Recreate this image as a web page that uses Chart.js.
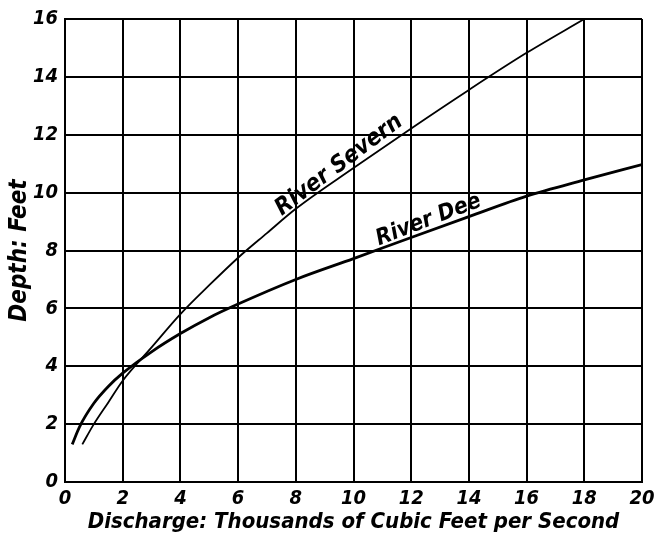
<!DOCTYPE html>
<html>
<head>
<meta charset="utf-8">
<script src="https://cdn.jsdelivr.net/npm/chart.js@4.4.1/dist/chart.umd.min.js"></script>
<style>
  html, body { margin: 0; padding: 0; background: #fff; }
  #wrap { width: 656px; height: 535px; position: relative; }
</style>
</head>
<body>
<div id="wrap"><canvas id="c" width="656" height="535"></canvas></div>
<script>
// Discharge (thousands of cubic feet per second) against depth (feet)
const severnDischarge = [0.6, 1.0, 1.5, 2.0, 3.0, 4.0, 5.0, 6.0, 7.0, 8.0, 10.0, 12.0, 14.0, 16.0, 18.0];
const severnDepth     = [1.3, 2.0, 2.75, 3.5, 4.65, 5.8, 6.8, 7.75, 8.6, 9.44, 10.85, 12.22, 13.55, 14.83, 16.0];

const deeDischarge = [0.25, 0.5, 1.0, 1.5, 2.0, 3.0, 4.0, 5.0, 6.0, 8.0, 10.0, 12.0, 14.0, 16.0, 18.0, 20.0];
const deeDepth     = [1.3, 1.9, 2.72, 3.3, 3.76, 4.5, 5.13, 5.68, 6.15, 7.0, 7.72, 8.45, 9.17, 9.88, 10.44, 10.97];

const xTickValues = [0, 2, 4, 6, 8, 10, 12, 14, 16, 18, 20];
const yTickValues = [0, 2, 4, 6, 8, 10, 12, 14, 16];

// Curve names written along each line: [text, discharge, depth, angle in degrees, font size]
const curveLabels = [
  ['River Severn', 9.5, 10.95, -37, 23.5],
  ['River Dee', 12.6, 9.05, -21, 22.5]
];

const LETTER_FONT = '"DejaVu Sans Condensed", "DejaVu Sans", sans-serif';

const toPoints = (xs, ys) => xs.map((x, i) => ({ x: x, y: ys[i] }));

const curveLabelPlugin = {
  id: 'curveLabels',
  afterDatasetsDraw(chart) {
    const { ctx, scales } = chart;
    ctx.save();
    ctx.fillStyle = '#000';
    ctx.textAlign = 'center';
    ctx.textBaseline = 'middle';
    curveLabels.forEach(([text, x, y, ang, size]) => {
      const px = scales.x.getPixelForValue(x);
      const py = scales.y.getPixelForValue(y);
      ctx.save();
      ctx.font = 'italic bold ' + size + 'px ' + LETTER_FONT;
      ctx.translate(px, py);
      ctx.rotate(ang * Math.PI / 180);
      ctx.fillText(text, 0, 0);
      ctx.restore();
    });
    ctx.restore();
  }
};

new Chart(document.getElementById('c'), {
  type: 'line',
  data: {
    datasets: [
      {
        label: 'River Severn',
        data: toPoints(severnDischarge, severnDepth),
        borderColor: '#000',
        borderWidth: 1.8,
        pointRadius: 0,
        cubicInterpolationMode: 'monotone',
        fill: false
      },
      {
        label: 'River Dee',
        data: toPoints(deeDischarge, deeDepth),
        borderColor: '#000',
        borderWidth: 2.8,
        pointRadius: 0,
        cubicInterpolationMode: 'monotone',
        fill: false
      }
    ]
  },
  options: {
    responsive: false,
    animation: false,
    layout: { padding: { top: 15, right: 14, left: 0, bottom: 0 } },
    plugins: {
      legend: { display: false },
      tooltip: { enabled: false }
    },
    scales: {
      x: {
        type: 'linear',
        min: 0,
        max: 20,
        afterBuildTicks(axis) { axis.ticks = xTickValues.map(v => ({ value: v })); },
        afterFit(axis) { axis.height = 53; axis.paddingRight = 4; axis.paddingLeft = 4; },
        grid: { color: '#000', lineWidth: 2, drawTicks: false },
        border: { color: '#000', width: 2 },
        ticks: {
          color: '#000',
          padding: 5,
          maxRotation: 0,
          font: { family: LETTER_FONT, size: 20, style: 'italic', weight: 'bold' }
        },
        title: {
          display: true,
          text: 'Discharge: Thousands of Cubic Feet per Second',
          color: '#000',
          padding: { top: -4, bottom: 0 },
          font: { family: LETTER_FONT, size: 22, style: 'italic', weight: 'bold' }
        }
      },
      y: {
        type: 'linear',
        min: 0,
        max: 16,
        afterBuildTicks(axis) { axis.ticks = yTickValues.map(v => ({ value: v })); },
        afterFit(axis) { axis.width = 65; },
        grid: { color: '#000', lineWidth: 2, drawTicks: false },
        border: { color: '#000', width: 2 },
        ticks: {
          color: '#000',
          padding: 7,
          font: { family: LETTER_FONT, size: 20, style: 'italic', weight: 'bold' }
        },
        title: {
          display: true,
          text: 'Depth: Feet',
          color: '#000',
          padding: { top: 5, bottom: 0 },
          font: { family: LETTER_FONT, size: 24, style: 'italic', weight: 'bold' }
        }
      }
    }
  },
  plugins: [curveLabelPlugin]
});
</script>
</body>
</html>
